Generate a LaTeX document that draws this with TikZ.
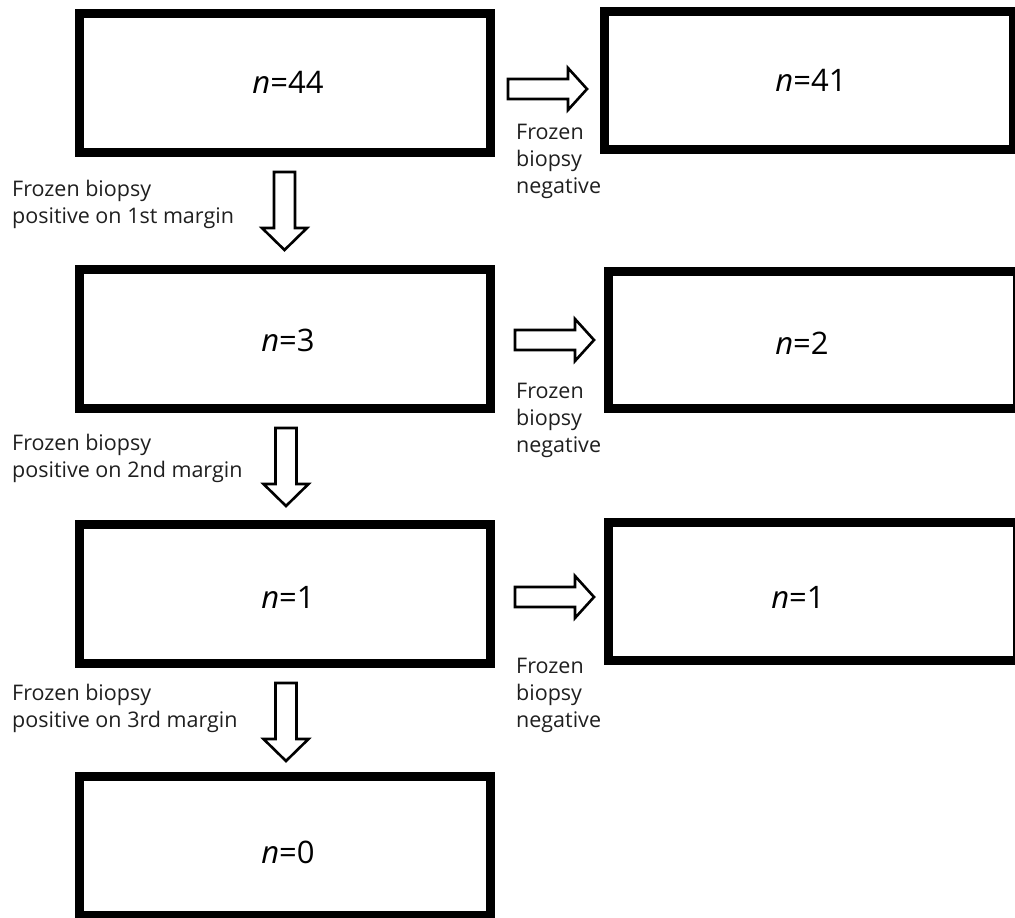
\documentclass[tikz,border=0pt]{standalone}
\usepackage{fontspec}
\setmainfont{Open Sans}
\begin{document}
\begin{tikzpicture}[x=1pt,y=-1pt,
  box/.style={draw=black,line width=9pt,fill=white,inner sep=0pt,minimum width=411pt},
  lbox/.style={box,minimum height=139pt},
  rbox/.style={box,minimum width=409pt,minimum height=138pt},
  ntext/.style={font=\fontsize{31}{36}\selectfont,inner sep=0pt},
  lab/.style={font=\fontsize{21.5}{27}\selectfont,align=left,anchor=north west,inner sep=0pt,text=black!88},
  blk/.style={draw=black,line width=2.6pt,fill=white,line join=miter}]
\useasboundingbox (0,0) rectangle (1015,918);
\clip (0,0) rectangle (1015,918);
\fill[white] (0,0) rectangle (1015,918);
% left boxes
\node[lbox] (L1) at (285,83) {};
\node[lbox] (L2) at (285,339) {};
\node[lbox] (L3) at (285,594) {};
\node[lbox] (L4) at (285,846) {};
% right boxes
\node[rbox,minimum height=138pt] (R1) at (809,80.5) {};
\node[rbox,minimum height=137pt] (R2) at (813,340) {};
\node[rbox,minimum height=138pt] (R3) at (813,591.5) {};
% texts
\node[ntext] (t1) at (288,82) {\textit{n}=44};
\node[ntext] (t2) at (288,340) {\textit{n}=3};
\node[ntext] (t3) at (288,597) {\textit{n}=1};
\node[ntext] (t4) at (288,852) {\textit{n}=0};
\node[ntext] (t5) at (811,80) {\textit{n}=41};
\node[ntext] (t6) at (802,343) {\textit{n}=2};
\node[ntext] (t7) at (798,597) {\textit{n}=1};
% down block arrows
\foreach \c/\t in {284.5/172, 286/428, 286/683}{
  \draw[blk] (\c-10.5,\t) -- (\c+10.5,\t) -- (\c+10.5,\t+56) -- (\c+22.5,\t+56)
    -- (\c,\t+78) -- (\c-22.5,\t+56) -- (\c-10.5,\t+56) -- cycle;
}
% right block arrows
\foreach \l/\m in {508/89, 515/340, 515/597}{
  \draw[blk] (\l,\m-10) -- (\l+60,\m-10) -- (\l+60,\m-21) -- (\l+79,\m)
    -- (\l+60,\m+21) -- (\l+60,\m+10) -- (\l,\m+10) -- cycle;
}
% labels
\node[lab] (a1) at (12,180) {Frozen biopsy\\positive on 1st margin};
\node[lab] (a2) at (12,434) {Frozen biopsy\\positive on 2nd margin};
\node[lab] (a3) at (12,684) {Frozen biopsy\\positive on 3rd margin};
\node[lab] (b1) at (516,124) {Frozen\\biopsy\\negative};
\node[lab] (b2) at (516,383) {Frozen\\biopsy\\negative};
\node[lab] (b3) at (516,658) {Frozen\\biopsy\\negative};
\end{tikzpicture}
\end{document}
